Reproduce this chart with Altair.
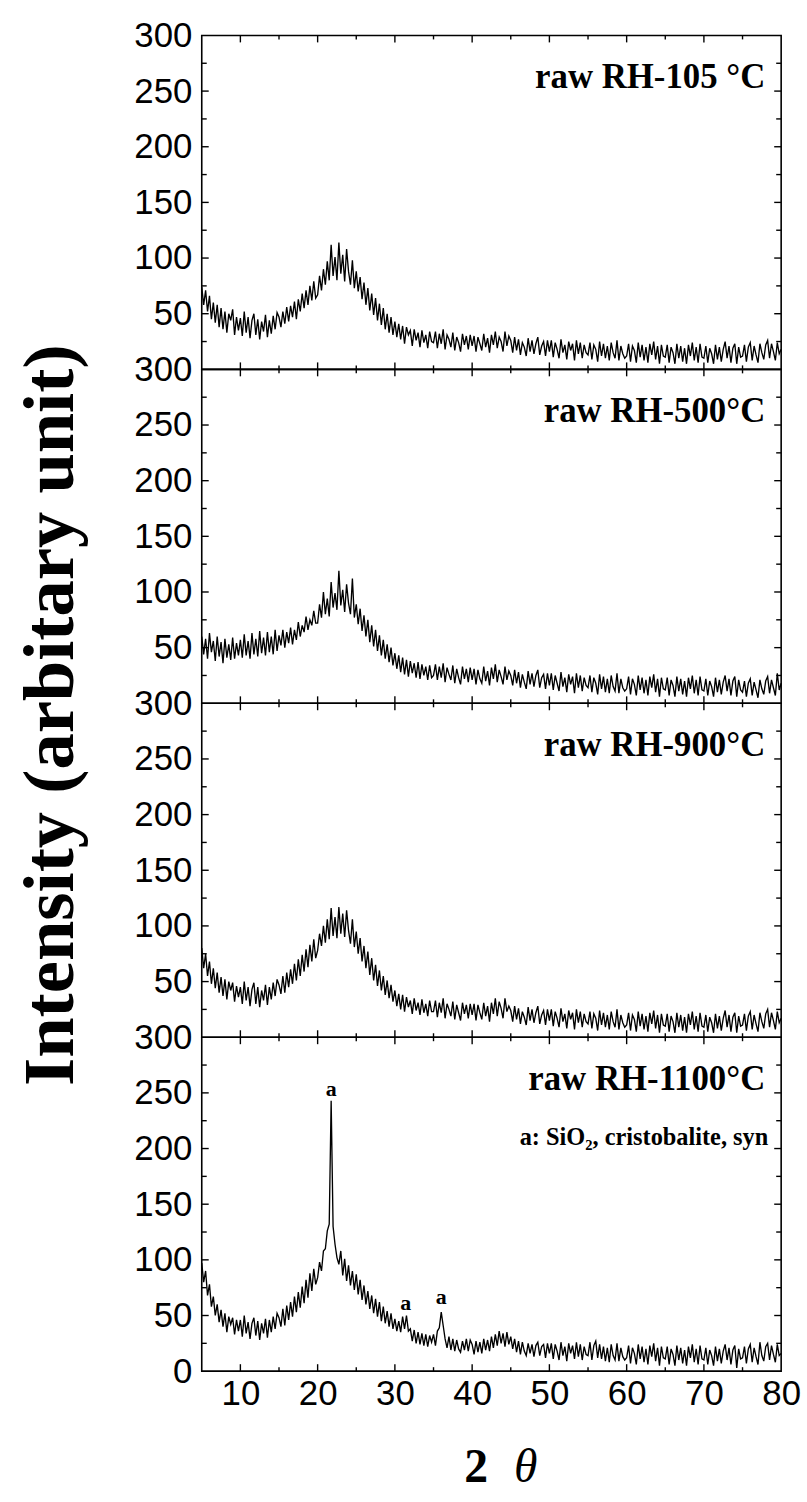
import altair as alt
import numpy as np
import pandas as pd

# 2-theta grid: 5 to 80 step 0.25
x_start, x_step, n_pts = 5.0, 0.25, 301

i105 = [
    74, 58, 71, 52, 66, 45, 60, 42, 58, 38, 55, 36, 52, 33, 50, 44, 54, 31, 47, 35,
    46, 30, 52, 33, 47, 28, 44, 50, 31, 45, 27, 43, 34, 49, 29, 44, 32, 48, 36, 51,
    47, 38, 52, 41, 56, 43, 57, 47, 61, 45, 63, 52, 68, 55, 71, 58, 75, 62, 79, 64,
    67, 84, 71, 90, 76, 97, 80, 112, 84, 101, 80, 114, 86, 103, 79, 108, 88, 76, 98, 73,
    88, 70, 83, 63, 78, 58, 73, 53, 68, 49, 64, 44, 59, 40, 55, 36, 50, 33, 47, 31,
    43, 29, 41, 27, 39, 23, 38, 31, 35, 21, 36, 26, 33, 20, 35, 24, 31, 19, 34, 25,
    24, 34, 19, 32, 23, 36, 18, 31, 27, 20, 33, 17, 29, 24, 16, 32, 22, 30, 18, 31,
    21, 30, 16, 29, 23, 17, 32, 20, 28, 15, 31, 22, 34, 19, 29, 25, 16, 34, 21, 30,
    26, 15, 29, 17, 27, 13, 24, 20, 12, 28, 16, 26, 14, 23, 29, 13, 21, 25, 12, 26,
    16, 26, 11, 24, 18, 10, 27, 15, 22, 9, 25, 17, 23, 8, 26, 14, 24, 10, 22, 15,
    13, 24, 9, 22, 18, 7, 25, 12, 23, 10, 21, 8, 24, 15, 10, 26, 8, 21, 14, 10,
    12, 23, 7, 21, 17, 6, 24, 11, 22, 8, 20, 6, 23, 13, 25, 9, 21, 5, 22, 12,
    11, 22, 6, 20, 15, 5, 23, 10, 21, 7, 19, 5, 22, 12, 24, 8, 20, 6, 23, 11,
    10, 21, 6, 19, 14, 5, 22, 9, 20, 7, 18, 25, 10, 21, 6, 19, 23, 5, 20, 11,
    12, 22, 7, 20, 24, 8, 21, 13, 6, 23, 15, 9, 22, 26, 10, 23, 16, 8, 24, 14,
    18,
]

i500 = [
    60, 44, 58, 40, 63, 46, 56, 38, 60, 42, 55, 36, 58, 41, 53, 39, 59, 40, 54, 43,
    57, 41, 62, 43, 56, 40, 63, 44, 58, 42, 65, 45, 59, 43, 64, 46, 60, 44, 66, 47,
    61, 52, 66, 50, 64, 54, 68, 53, 66, 57, 73, 60, 70, 64, 78, 66, 75, 70, 83, 72,
    72, 89, 77, 100, 80, 94, 78, 109, 86, 99, 84, 119, 88, 102, 82, 107, 90, 80, 112, 77,
    89, 71, 85, 65, 79, 60, 75, 55, 70, 51, 66, 47, 61, 43, 57, 40, 53, 37, 50, 34,
    45, 31, 43, 28, 41, 26, 39, 24, 38, 27, 36, 23, 37, 22, 35, 25, 33, 21, 34, 23,
    25, 35, 21, 33, 23, 36, 19, 32, 26, 21, 34, 18, 31, 23, 17, 33, 22, 31, 19, 32,
    21, 31, 17, 30, 22, 18, 33, 20, 29, 16, 32, 22, 35, 19, 30, 24, 17, 33, 21, 29,
    25, 16, 30, 18, 28, 14, 26, 19, 13, 29, 17, 27, 15, 25, 30, 14, 23, 26, 13, 27,
    16, 27, 12, 25, 18, 11, 28, 15, 23, 10, 26, 17, 24, 9, 27, 14, 25, 11, 23, 16,
    14, 25, 10, 23, 18, 8, 26, 13, 24, 10, 22, 9, 25, 15, 11, 27, 9, 22, 14, 11,
    13, 24, 8, 22, 17, 7, 25, 12, 23, 9, 21, 7, 24, 14, 26, 10, 22, 6, 23, 13,
    12, 23, 7, 21, 16, 6, 24, 11, 22, 8, 20, 6, 23, 13, 25, 9, 21, 7, 24, 12,
    11, 22, 7, 20, 15, 6, 23, 10, 21, 8, 19, 25, 11, 22, 7, 20, 24, 6, 21, 12,
    10, 20, 6, 18, 22, 7, 19, 12, 5, 21, 13, 8, 20, 24, 9, 21, 14, 7, 27, 12,
    18,
]

i900 = [
    80, 62, 75, 55, 68, 48, 62, 44, 58, 40, 54, 37, 52, 34, 50, 42, 49, 32, 46, 36,
    45, 30, 50, 33, 45, 28, 43, 49, 30, 45, 27, 42, 33, 47, 29, 45, 34, 49, 37, 52,
    47, 39, 55, 40, 58, 45, 61, 48, 66, 51, 70, 55, 74, 59, 79, 63, 83, 68, 88, 71,
    78, 93, 82, 100, 85, 106, 88, 116, 91, 108, 89, 117, 93, 111, 90, 114, 96, 84, 106, 81,
    95, 75, 89, 68, 82, 62, 77, 56, 71, 51, 65, 46, 60, 42, 55, 38, 51, 35, 47, 32,
    42, 28, 39, 25, 38, 23, 36, 27, 33, 21, 35, 24, 31, 20, 34, 22, 30, 19, 33, 23,
    23, 33, 18, 31, 22, 35, 17, 30, 25, 19, 32, 16, 29, 22, 15, 31, 21, 29, 17, 30,
    20, 30, 15, 29, 22, 16, 31, 19, 28, 14, 31, 21, 35, 19, 32, 26, 17, 35, 23, 28,
    24, 14, 28, 16, 26, 12, 23, 18, 11, 27, 15, 25, 13, 22, 28, 12, 20, 24, 11, 25,
    15, 25, 10, 23, 17, 9, 26, 14, 21, 8, 24, 16, 22, 7, 25, 13, 23, 9, 21, 14,
    12, 23, 8, 21, 17, 6, 24, 11, 22, 9, 20, 7, 23, 14, 9, 25, 7, 20, 13, 9,
    11, 22, 6, 20, 16, 5, 23, 10, 21, 7, 19, 5, 22, 12, 24, 8, 20, 4, 21, 11,
    10, 21, 5, 19, 14, 4, 22, 9, 20, 6, 18, 4, 21, 11, 23, 7, 19, 5, 22, 10,
    9, 20, 5, 18, 13, 4, 21, 8, 19, 6, 17, 24, 9, 20, 5, 18, 22, 4, 19, 10,
    11, 21, 6, 19, 23, 7, 20, 12, 5, 22, 14, 8, 21, 25, 9, 22, 15, 7, 23, 13,
    17,
]

i1100 = [
    97, 80, 90, 68, 78, 58, 67, 50, 60, 44, 55, 40, 52, 35, 49, 42, 48, 33, 46, 36,
    46, 31, 50, 34, 44, 29, 43, 48, 32, 45, 28, 43, 34, 47, 30, 46, 35, 49, 38, 52,
    48, 40, 56, 41, 59, 46, 62, 49, 67, 53, 71, 57, 76, 61, 82, 66, 88, 72, 92, 78,
    84, 98, 90, 108, 110, 126, 132, 243, 130, 114, 102, 96, 108, 86, 101, 81, 95, 77, 90, 73,
    87, 69, 82, 64, 77, 60, 72, 56, 68, 52, 65, 49, 62, 45, 58, 43, 54, 40, 52, 38,
    47, 36, 45, 35, 49, 38, 50, 36, 38, 27, 37, 25, 35, 24, 34, 23, 33, 22, 32, 26,
    33, 23, 36, 39, 53, 41, 29, 21, 31, 19, 29, 18, 28, 20, 17, 27, 19, 29, 18, 28,
    24, 15, 27, 17, 26, 16, 29, 19, 28, 18, 31, 21, 33, 23, 36, 25, 34, 22, 35, 24,
    31, 20, 29, 17, 27, 15, 26, 18, 14, 25, 16, 24, 13, 23, 26, 14, 22, 24, 12, 25,
    16, 25, 11, 24, 18, 10, 26, 14, 22, 9, 25, 16, 23, 11, 26, 13, 24, 10, 22, 15,
    14, 26, 10, 23, 27, 12, 24, 11, 22, 9, 21, 8, 24, 14, 10, 25, 9, 21, 13, 10,
    12, 23, 7, 21, 16, 6, 24, 11, 22, 8, 20, 6, 23, 13, 25, 9, 21, 5, 22, 12,
    11, 22, 6, 20, 15, 5, 23, 10, 21, 7, 19, 5, 22, 12, 24, 8, 20, 6, 23, 11,
    10, 21, 6, 19, 14, 5, 22, 9, 20, 7, 18, 24, 10, 21, 6, 19, 23, 3, 20, 11,
    12, 22, 7, 20, 24, 8, 21, 13, 6, 26, 14, 9, 22, 25, 10, 23, 15, 8, 24, 14,
    16,
]

panel_labels = ["raw RH-105 °C", "raw RH-500°C", "raw RH-900°C", "raw RH-1100°C"]
series = [i105, i500, i900, i1100]

peak_x = [21.75, 31.4, 36.0]
peak_y = [247, 55, 60]
peak_txt = ["a", "a", "a"]
legend_note = "a: SiO₂, cristobalite, syn"

x_tick_labels = [10, 20, 30, 40, 50, 60, 70, 80]
x_major = [10, 20, 30, 40, 50, 60, 70]
x_minor = [15, 25, 35, 45, 55, 65, 75]
y_major = [50, 100, 150, 200, 250]
y_minor = [25, 75, 125, 175, 225, 275]

W, H = 583, 336
xs = alt.Scale(domain=[5, 80], nice=False, zero=False)
ys = alt.Scale(domain=[0, 300], nice=False, zero=False)
grid_x = x_start + x_step * np.arange(n_pts)

SERIF = "Liberation Serif"
SANS = "Liberation Sans"


def tick_layers(xaxis, yaxis):
    layers = []
    for vals, ln in ((x_major, 7), (x_minor, 4)):
        base = alt.Chart(pd.DataFrame({"t": vals})).mark_rule(color="black", strokeWidth=1.4)
        layers.append(base.encode(x=alt.X("t:Q", scale=xs, axis=xaxis), y=alt.value(H), y2=alt.value(H - ln)))
        layers.append(base.encode(x=alt.X("t:Q", scale=xs, axis=xaxis), y=alt.value(0), y2=alt.value(ln)))
    for vals, ln in ((y_major, 7), (y_minor, 5)):
        base = alt.Chart(pd.DataFrame({"t": vals})).mark_rule(color="black", strokeWidth=1.4)
        layers.append(base.encode(y=alt.Y("t:Q", scale=ys, axis=yaxis), x=alt.value(0), x2=alt.value(ln)))
        layers.append(base.encode(y=alt.Y("t:Q", scale=ys, axis=yaxis), x=alt.value(W), x2=alt.value(W - ln)))
    return layers


panels = []
for k, (lab, vals) in enumerate(zip(panel_labels, series)):
    last = k == len(series) - 1
    df = pd.DataFrame({"x": grid_x, "y": vals})
    if last:
        xaxis = alt.Axis(values=x_tick_labels, ticks=False, domain=False, grid=False,
                         labelFont=SANS, labelFontSize=35, labelPadding=6,
                         labelFlush=False, labelColor="black", title=None)
        yvals = [0, 50, 100, 150, 200, 250, 300]
    else:
        xaxis = None
        yvals = [50, 100, 150, 200, 250, 300]
    yaxis = alt.Axis(values=yvals, ticks=False, domain=False, grid=False,
                     labelFont=SANS, labelFontSize=35, labelPadding=10,
                     labelFlush=False, labelColor="black", title=None)
    line = alt.Chart(df).mark_line(color="black", strokeWidth=1.35).encode(
        x=alt.X("x:Q", scale=xs, axis=xaxis),
        y=alt.Y("y:Q", scale=ys, axis=yaxis),
    )
    label = alt.Chart(pd.DataFrame({"t": [lab]})).mark_text(
        font=SERIF, fontWeight="bold", fontSize=35, align="right",
        baseline="alphabetic", color="black"
    ).encode(x=alt.value(W - 16), y=alt.value(53), text="t:N")
    layers = [line] + tick_layers(xaxis, yaxis) + [label]
    if last:
        pk = alt.Chart(pd.DataFrame({"x": peak_x, "y": peak_y, "t": peak_txt})).mark_text(
            font=SERIF, fontWeight="bold", fontSize=22, baseline="alphabetic", color="black"
        ).encode(x=alt.X("x:Q", scale=xs, axis=xaxis), y=alt.Y("y:Q", scale=ys, axis=yaxis), text="t:N")
        note = alt.Chart(pd.DataFrame({"t": [legend_note]})).mark_text(
            font=SERIF, fontWeight="bold", fontSize=24.5, align="right",
            baseline="alphabetic", color="black"
        ).encode(x=alt.value(W - 13), y=alt.value(108), text="t:N")
        two = alt.Chart(pd.DataFrame({"t": ["2"]})).mark_text(
            font=SERIF, fontWeight="bold", fontSize=48, align="center",
            baseline="alphabetic", color="black"
        ).encode(x=alt.value(276), y=alt.value(H + 112), text="t:N")
        theta = alt.Chart(pd.DataFrame({"t": ["θ"]})).mark_text(
            font=SERIF, fontStyle="italic", fontSize=48, align="center",
            baseline="alphabetic", color="black"
        ).encode(x=alt.value(326), y=alt.value(H + 112), text="t:N")
        layers += [pk, note, two, theta]
    if k == 1:
        ytitle = alt.Chart(pd.DataFrame({"t": ["Intensity (arbitary unit)"]})).mark_text(
            font=SERIF, fontWeight="bold", fontSize=73, align="center", angle=270,
            baseline="alphabetic", color="black"
        ).encode(x=alt.value(-130), y=alt.value(H + 12), text="t:N")
        layers.append(ytitle)
    panels.append(alt.layer(*layers).properties(width=W, height=H))

chart = alt.vconcat(*panels, spacing=0, bounds="flush").properties(
    padding={"left": 14, "top": 13, "right": 5, "bottom": 5}
).configure_view(stroke="black", strokeWidth=1.6)

chart.save("out.html", embed_options={"renderer": "svg", "actions": False})
